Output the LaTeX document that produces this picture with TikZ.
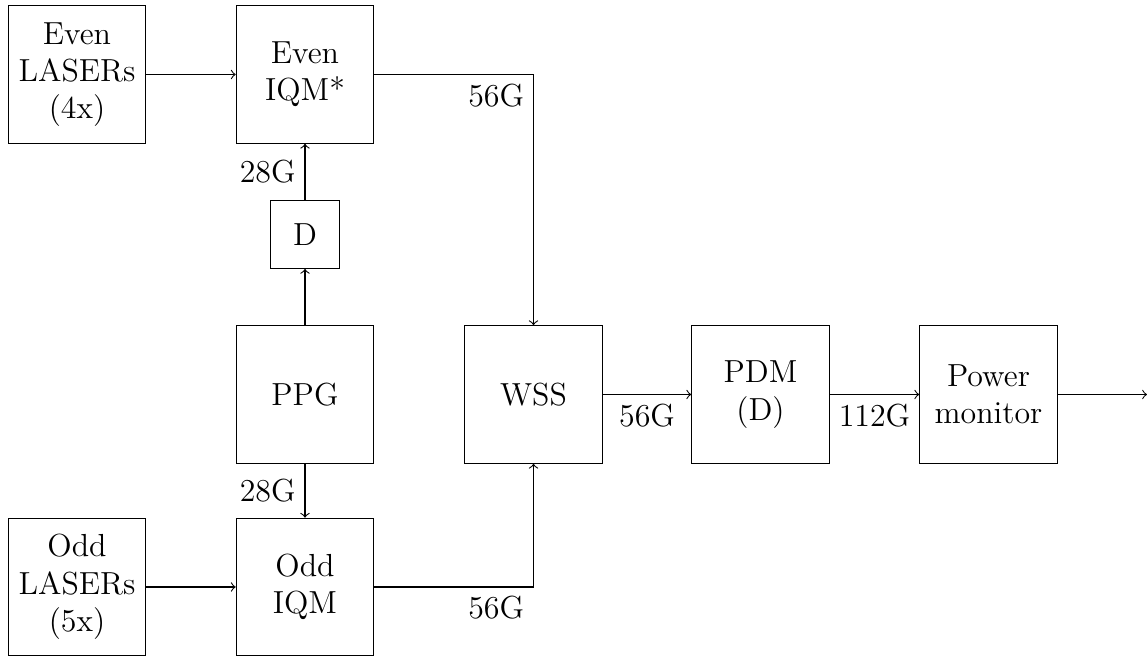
\documentclass[tikz,border=0pt]{standalone}
\begin{document}
\begin{tikzpicture}[x=0.376pt,y=-0.376pt,
  blk/.style={draw, minimum width=51.7pt, minimum height=51.7pt, align=center, font=\large, inner sep=0pt},
  smallblk/.style={draw, minimum width=25.8pt, minimum height=25.6pt, align=center, font=\large, inner sep=0pt},
  lbl/.style={font=\large},
  >=to]
\useasboundingbox (0,0) rectangle (1147,657);
\node[blk] (eL) at (77,74.5) {Even\\LASERs\\(4x)};
\node[blk] (eI) at (305,74.5) {Even\\IQM*};
\node[smallblk] (D) at (305,234.3) {D};
\node[blk] (PPG) at (305,394.5) {PPG};
\node[blk] (oL) at (77,587) {Odd\\LASERs\\(5x)};
\node[blk] (oI) at (305,587) {Odd\\IQM};
\node[blk] (WSS) at (533.5,394.5) {WSS};
\node[blk] (PDM) at (760.5,394.5) {PDM\\(D)};
\node[blk] (PM) at (988.5,394.5) {Power\\monitor};
\coordinate (out) at (1147,394.5);

\draw[->] (eL) -- (eI);
\draw[->] (oL) -- (oI);
\draw[->] (PPG) -- (D);
\draw[->] (D) -- node[lbl,left] {28G} (eI);
\draw[->] (PPG) -- node[lbl,left] {28G} (oI);
\draw[->] (eI.east) -| node[lbl,below left] {56G} (WSS.north);
\draw[->] (oI.east) -| node[lbl,below left] {56G} (WSS.south);
\draw[->] (WSS) -- node[lbl,below] {56G} (PDM);
\draw[->] (PDM) -- node[lbl,below] {112G} (PM);
\draw[->] (PM) -- (out);
\end{tikzpicture}
\end{document}
